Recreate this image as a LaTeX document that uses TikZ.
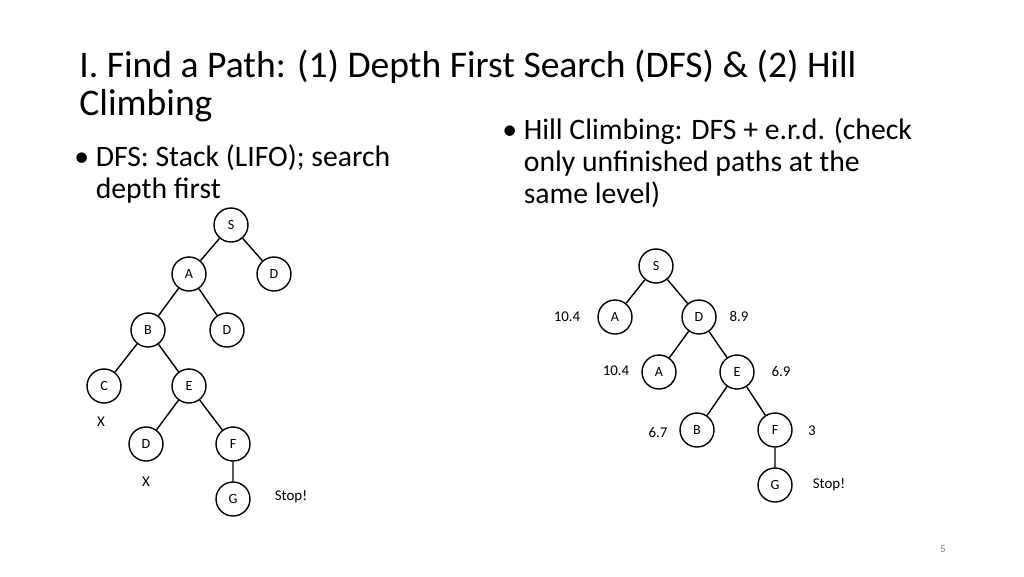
\documentclass[tikz,border=0pt]{standalone}
\usepackage{fontspec}
\setmainfont{Carlito}
\begin{document}
\begin{tikzpicture}[x=0.02cm,y=-0.02cm,
  vert/.style={circle,draw,thick,minimum size=0.68cm,inner sep=0pt,font=\fontsize{8}{9}\selectfont},
  note/.style={font=\fontsize{8.5}{10}\selectfont},
  bul/.style={anchor=north west,align=left,inner sep=0pt,font=\fontsize{16.9}{18.2}\selectfont}]
\useasboundingbox (0,0) rectangle (1024,576);
% title and bullets
\node [anchor=west,inner sep=0pt,font=\fontsize{21.4}{21.8}\selectfont,align=left] (title) at (79,86)
  {I. Find a Path: (1) Depth First Search (DFS) \& (2) Hill\\Climbing};
\node [bul] (bl) at (74,144) {\textbullet\ DFS: Stack (LIFO); search\\\hphantom{\textbullet\ }depth first};
\node [bul] (br) at (502,117) {\textbullet\ Hill Climbing: DFS + e.r.d. (check\\\hphantom{\textbullet\ }only unfinished paths at the\\\hphantom{\textbullet\ }same level)};
% left tree
\node [vert] (s) at (231,225) {S};
\node [vert] (a) at (189,274) {A};
\node [vert] (d) at (274,274) {D};
\node [vert] (b) at (148,330) {B};
\node [vert] (d2) at (227,330) {D};
\node [vert] (c) at (104,386) {C};
\node [vert] (e) at (189,386) {E};
\node [vert] (d3) at (146,444) {D};
\node [vert] (f) at (233,444) {F};
\node [vert] (g) at (233,499) {G};
\draw [thick] (s) -- (a) (s) -- (d) (a) -- (b) (a) -- (d2) (b) -- (c) (b) -- (e)
  (e) -- (d3) (e) -- (f) (f) -- (g);
\node [note] (x1) at (101,422) {X};
\node [note] (x2) at (146,482) {X};
\node [note] (stop1) at (291,497) {Stop!};
% right tree
\node [vert] (rs) at (656,266) {S};
\node [vert] (ra) at (615,317) {A};
\node [vert] (rd) at (699,317) {D};
\node [vert] (ra2) at (659,372) {A};
\node [vert] (re) at (737,372) {E};
\node [vert] (rb) at (697,430) {B};
\node [vert] (rf) at (775,430) {F};
\node [vert] (rg) at (775,485) {G};
\draw [thick] (rs) -- (ra) (rs) -- (rd) (rd) -- (ra2) (rd) -- (re) (re) -- (rb)
  (re) -- (rf) (rf) -- (rg);
\node [note] (h1) at (567,317) {10.4};
\node [note] (h2) at (739,316) {8.9};
\node [note] (h3) at (616,371) {10.4};
\node [note] (h4) at (781,372) {6.9};
\node [note] (h5) at (658,433) {6.7};
\node [note] (h6) at (812,431) {3};
\node [note] (stop2) at (829,485) {Stop!};
\node [font=\fontsize{6}{7}\selectfont,text=gray] (pg) at (943,549) {5};
\end{tikzpicture}
\end{document}
